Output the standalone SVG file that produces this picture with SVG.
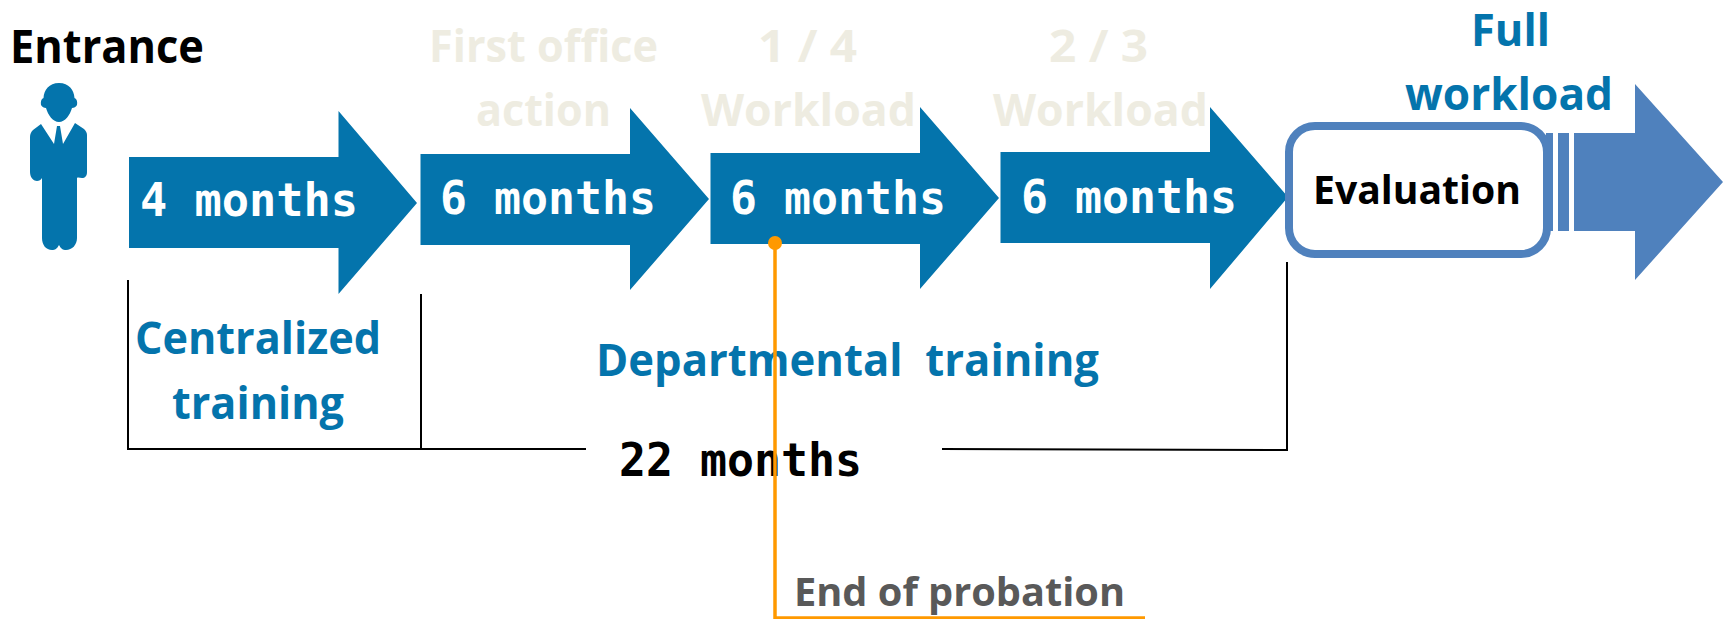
<svg xmlns="http://www.w3.org/2000/svg" width="1728" height="619" viewBox="0 0 1728 619">
<style>
.b{font-family:"Open Sans","Noto Sans",sans-serif;font-weight:700;font-size:44px;white-space:pre}
.m{font-family:"DejaVu Sans Mono","Liberation Mono",monospace;font-size:46px;font-weight:700}
.blue{fill:#0474AC}.pale{fill:#EEECE1}.w{fill:#fff}.k{fill:#000}
.line{stroke:#000;stroke-width:2;fill:none}
.or{stroke:#FF9900;stroke-width:3.5;fill:none}
</style>
<rect width="1728" height="619" fill="#fff"/>
<g id="connectors">
<path class="line" d="M128 280V449H586M421 294V449M942 449L1287 450V262"/>
</g>
<g id="entrance">
<text class="b k" x="10" y="63" textLength="194" lengthAdjust="spacingAndGlyphs" style="font-size:47px">Entrance</text>
<path class="blue" d="M59 83C49 83 44 90 43.500 98C41 99 40.500 102 41 105C42 107 44 108 46 108C48 115 53 122 59 122C65 122 70 115 72 108C74 108 76 107 77 105C77.500 102 77 99 74.500 98C74 90 69 83 59 83ZM41 124L33 130C31 132 30 134 30 137V172C30 178 34 181 37 181C39 181 41 180 42 178V238C42 245 46 250 52 250C55 250 57 249 59 245C61 249 63 250 66 250C72 250 77 245 77 238V178C78 177 80 178 82 178C85 178 87 176 87 172V135C87 133 86 131 84 129L75 123L63 144L60 126H57L54 144Z"/>
</g>
<g id="arrow1"><path class="blue" d="M129 157H338.500V111L417 203L338.500 294V248H129Z"/><text class="m w" x="140" y="216" textLength="218" lengthAdjust="spacingAndGlyphs">4 months</text></g>
<g id="arrow2"><path class="blue" d="M420.500 154H630V108L709 199L630 290V245H420.500Z"/><text class="m w" x="440" y="214" textLength="216" lengthAdjust="spacingAndGlyphs">6 months</text></g>
<g id="arrow3"><path class="blue" d="M710.500 153H920V107L999 198L920 289V244H710.500Z"/><text class="m w" x="730" y="214" textLength="216" lengthAdjust="spacingAndGlyphs">6 months</text></g>
<g id="arrow4"><path class="blue" d="M1000.500 152H1210V107L1288 197L1210 289V243H1000.500Z"/><text class="m w" x="1021" y="213" textLength="216" lengthAdjust="spacingAndGlyphs">6 months</text></g>
<g id="label-first"><text class="b pale" x="429" y="62" textLength="229" lengthAdjust="spacingAndGlyphs">First office</text><text class="b pale" x="476" y="126" textLength="135" lengthAdjust="spacingAndGlyphs">action</text></g>
<g id="label-quarter"><text class="b pale" x="758" y="62" textLength="99" lengthAdjust="spacingAndGlyphs">1 / 4</text><text class="b pale" x="701" y="126" textLength="215" lengthAdjust="spacingAndGlyphs">Workload</text></g>
<g id="label-third"><text class="b pale" x="1049" y="62" textLength="99" lengthAdjust="spacingAndGlyphs">2 / 3</text><text class="b pale" x="993" y="126" textLength="215" lengthAdjust="spacingAndGlyphs">Workload</text></g>
<g id="full-arrow"><path fill="#4F81BD" d="M1546 133H1553V231H1546ZM1558 133H1569V231H1558ZM1574 133H1635V84L1723 182L1635 280V231H1574Z"/></g>
<g id="evaluation"><rect x="1289" y="126" width="258" height="128" rx="26" fill="#fff" stroke="#4F81BD" stroke-width="8"/><text class="b k" x="1313" y="204" textLength="208" lengthAdjust="spacingAndGlyphs" style="font-size:40px">Evaluation</text></g>
<g id="label-full"><text class="b blue" x="1471" y="46" textLength="79" lengthAdjust="spacingAndGlyphs">Full</text><text class="b blue" x="1405" y="110" textLength="208" lengthAdjust="spacingAndGlyphs">workload</text></g>
<g id="label-centralized"><text class="b blue" x="135" y="354" textLength="246" lengthAdjust="spacingAndGlyphs">Centralized</text><text class="b blue" x="172" y="419" textLength="172" lengthAdjust="spacingAndGlyphs">training</text></g>
<g id="label-departmental"><text class="b blue" x="596" y="376" textLength="503" lengthAdjust="spacingAndGlyphs">Departmental  training</text></g>
<g id="label-22"><text class="m k" x="619" y="476" textLength="243" lengthAdjust="spacingAndGlyphs">22 months</text></g>
<g id="probation"><path class="or" d="M775 243V618H1145"/><circle cx="775" cy="243" r="7" fill="#FF9900"/><text class="b" fill="#595959" x="794" y="606" textLength="331" lengthAdjust="spacingAndGlyphs" style="font-size:40px">End of probation</text></g>
</svg>
